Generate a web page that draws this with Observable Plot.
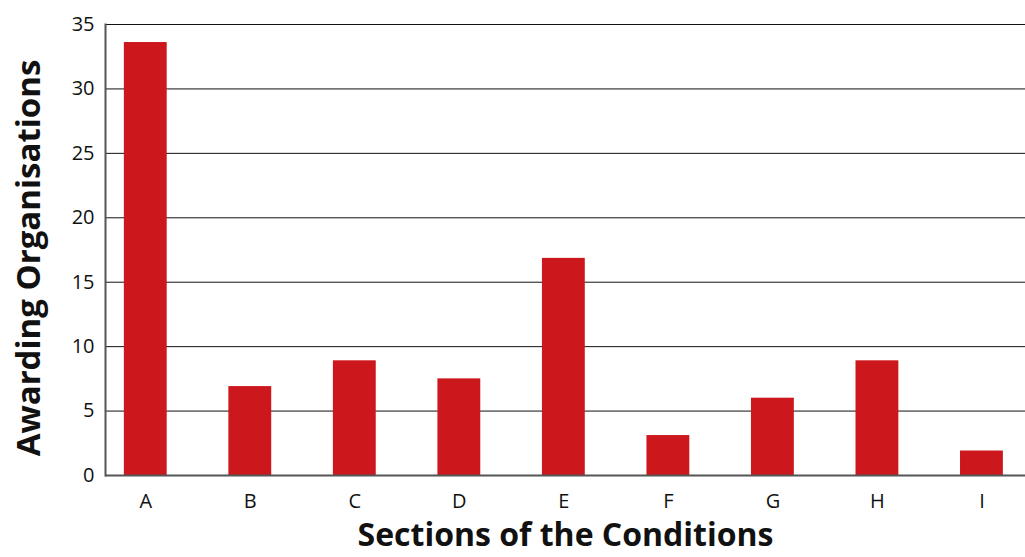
<!DOCTYPE html>
<html>
<head>
<meta charset="utf-8">
<script src="https://cdn.jsdelivr.net/npm/d3@7"></script>
<script src="https://cdn.jsdelivr.net/npm/@observablehq/plot@0.6"></script>
<style>
  html, body { margin: 0; padding: 0; background: #fff; }
  #chart svg { display: block; }
</style>
</head>
<body>
<div id="chart"></div>
<script>
const sections = ["A", "B", "C", "D", "E", "F", "G", "H", "I"];
const counts = [33.6, 6.9, 8.9, 7.5, 16.85, 3.1, 6.0, 8.9, 1.9];
const yTicks = [0, 5, 10, 15, 20, 25, 30, 35];
const xTitle = "Sections of the Conditions";
const yTitle = "Awarding Organisations";

const data = sections.map((s, i) => ({section: s, value: counts[i]}));

const chart = Plot.plot({
  width: 1025,
  height: 557,
  marginLeft: 105,
  marginRight: 0,
  marginTop: 24,
  marginBottom: 82,
  style: {fontFamily: "'Open Sans', 'Noto Sans', sans-serif", color: "#111", background: "#fff"},
  x: {domain: sections, paddingInner: 0.59, paddingOuter: 0.196, align: 0.46, round: false, label: null},
  y: {domain: [0, 35], label: null},
  marks: [
    Plot.gridY(yTicks, {stroke: "#111", strokeOpacity: 1, strokeWidth: 1}),
    Plot.barY(data, {x: "section", y: "value", fill: "#cc181d"}),
    Plot.ruleY([0], {stroke: "#555", strokeWidth: 2}),
    Plot.frame({anchor: "left", stroke: "#555", strokeWidth: 2}),
    Plot.axisY(yTicks, {tickSize: 0, tickPadding: 11, fontSize: 20, label: null}),
    Plot.axisX({tickSize: 0, tickPadding: 18, fontSize: 20, label: null}),
    Plot.text([xTitle], {frameAnchor: "bottom", textAnchor: "middle", dy: 70, fontSize: 32, fontWeight: "bold", fill: "#111"}),
    Plot.text([yTitle], {frameAnchor: "left", textAnchor: "middle", dx: -76, dy: 8, rotate: -90, fontSize: 33, fontWeight: "bold", fill: "#111"})
  ]
});
document.getElementById("chart").appendChild(chart);
</script>
</body>
</html>
